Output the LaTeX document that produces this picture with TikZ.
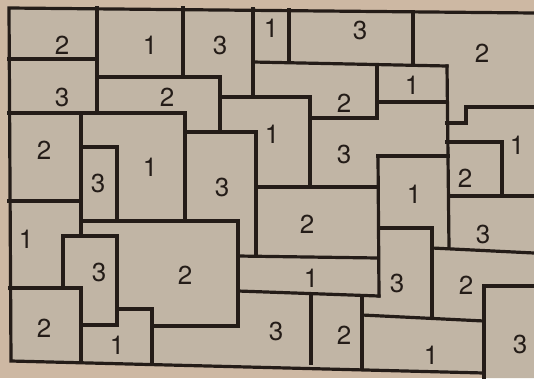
\documentclass[tikz,border=0pt]{standalone}
\usepackage{fontspec}
\setmainfont{TeX Gyre Heros}
\usepackage{tikz}
\definecolor{marge}{RGB}{205,184,163}
\definecolor{carte}{RGB}{193,181,165}
\definecolor{encre}{RGB}{36,28,24}
\tikzset{cloison/.style={line width=3.2pt, draw=encre, line cap=rect},
	chiffre/.style={text=encre, font=\fontsize{26}{26}\selectfont, inner sep=0pt}}
\newcommand{\mur}[2]{\draw[cloison] (#1) -- (#2)}
\newcommand{\num}[3]{\node[chiffre] (#1) at (#2) {#3}}

\begin{document}
\begin{tikzpicture}[x=1pt, y=-1pt]
	\useasboundingbox (0,0) rectangle (534,378);
	\fill[marge] (0,0) rectangle (534,378);
	\fill[carte] (9,8) -- (534,13) -- (534,378) -- (484,378) -- (484,373) -- (11,361) -- cycle;
%Borders
	\draw[cloison] (534,13) -- (9,8) -- (11,361) -- (484,373);
	\mur{484,286}{484,378};
%Top rows
	\mur{97,8}{97,113};
	\mur{9,59}{97,59};
	\mur{183,8}{183,77};
	\draw[cloison] (97,77) -- (220,77) -- (220,132);
	\draw[cloison] (9,113) -- (185,113) -- (185,221);
	\draw[cloison] (185,132) -- (256,132) -- (256,256);
	\mur{253,9}{253,97};
	\draw[cloison] (220,97) -- (310,97) -- (310,187);
	\mur{289,10}{289,62};
	\mur{253,62}{447,66};
	\mur{413,12}{413,64};
	\draw[cloison] (377,65) -- (377,118) -- (310,118);
	\mur{377,102}{447,102};
	\mur{447,66}{449,248};
	\draw[cloison] (447,123) -- (466,123) -- (466,107) -- (534,107);
	\draw[cloison] (447,142) -- (502,142) -- (502,196);
	\mur{449,196}{534,196};
%Middle
	\mur{378,156}{448,156};
	\mur{378,156}{379,296};
	\mur{256,187}{378,187};
	\mur{81,113}{81,236};
	\draw[cloison] (81,147) -- (117,147) -- (117,220);
	\mur{9,201}{81,201};
	\draw[cloison] (82,221) -- (238,221) -- (238,326);
	\draw[cloison] (63,288) -- (63,236) -- (117,236) -- (117,325) -- (81,325);
	\draw[cloison] (10,288) -- (81,288) -- (81,361);
	\draw[cloison] (117,309) -- (152,309) -- (152,361);
	\mur{152,326}{238,326};
	\mur{238,256}{378,258};
	\mur{238,291}{379,296};
%Bottom right
	\mur{311,295}{311,363};
	\mur{362,296}{362,368};
	\mur{362,315}{484,321};
	\draw[cloison] (379,228) -- (432,228) -- (432,318);
	\mur{432,248}{534,253};
	\mur{484,286}{534,286};
%Colours
	\num{a1}{62,45}{2};
	\num{a2}{150,45}{1};
	\num{a3}{220,45}{3};
	\num{a4}{271,28}{1};
	\num{a5}{360,30}{3};
	\num{a6}{482,53}{2};
	\num{b1}{62,97}{3};
	\num{b2}{167,97}{2};
	\num{b3}{344,103}{2};
	\num{b4}{412,85}{1};
	\num{b5}{272,134}{1};
	\num{c1}{44,150}{2};
	\num{c2}{98,183}{3};
	\num{c3}{150,167}{1};
	\num{c4}{222,187}{3};
	\num{c5}{344,154}{3};
	\num{c6}{517,145}{1};
	\num{c7}{465,178}{2};
	\num{c8}{414,194}{1};
	\num{d1}{307,224}{2};
	\num{d2}{483,234}{3};
	\num{d3}{26,239}{1};
	\num{d4}{99,272}{3};
	\num{d5}{185,275}{2};
	\num{d6}{311,278}{1};
	\num{d7}{397,283}{3};
	\num{d8}{466,285}{2};
	\num{e1}{44,328}{2};
	\num{e2}{117,345}{1};
	\num{e3}{276,331}{3};
	\num{e4}{344,335}{2};
	\num{e5}{431,355}{1};
	\num{e6}{520,344}{3};
\end{tikzpicture}
\end{document}
